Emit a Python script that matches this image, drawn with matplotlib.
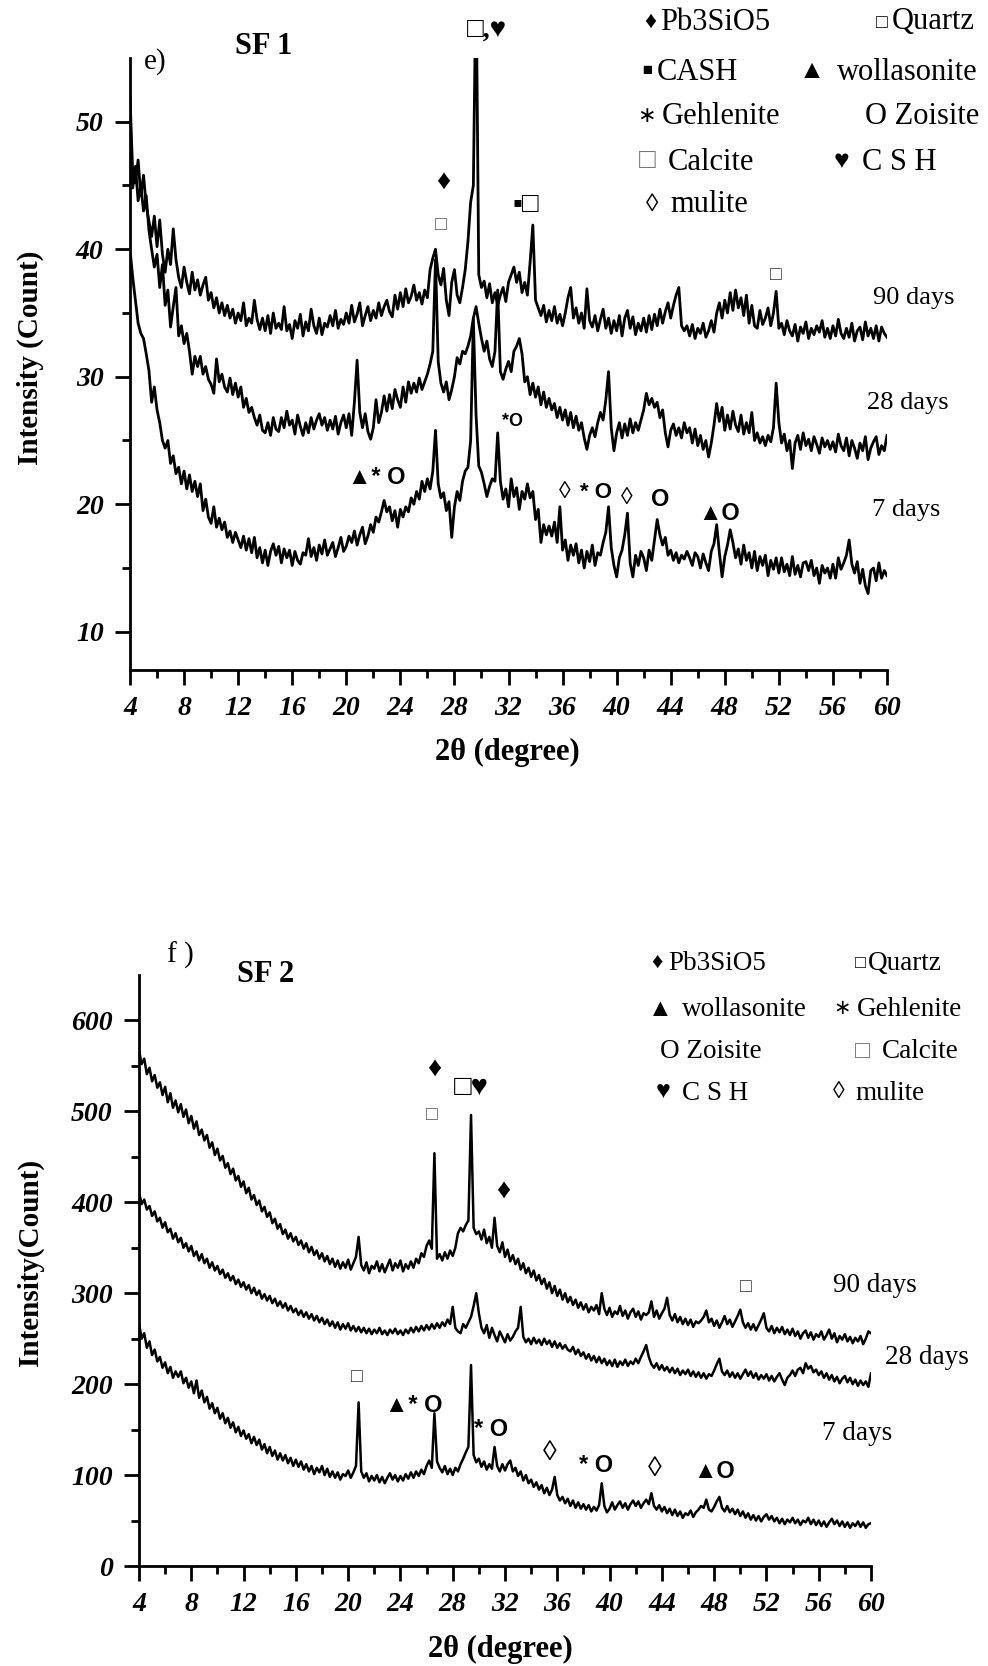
import numpy as np
import matplotlib
matplotlib.use("Agg")
import matplotlib.pyplot as plt

plt.rcParams['font.family'] = ['Liberation Serif', 'DejaVu Sans']

W, H = 988, 1666

# 2theta grid, 0.2 degree step
two_theta = np.round(np.arange(4, 60.0001, 0.2), 1)

# ---- SF 1 (panel e) ----
sf1_90 = [
    52.0, 46.0, 45.2, 47.0, 44.2,
    45.8, 43.4, 42.2, 41.0, 42.6,
    40.2, 42.3, 39.6, 38.2, 40.0,
    38.8, 41.6, 39.2, 37.8, 37.0,
    38.6, 37.4, 36.5, 38.2, 36.8,
    37.6, 36.4, 37.2, 37.8, 36.0,
    36.6, 35.4, 36.2, 35.0, 35.8,
    34.8, 35.6, 34.6, 35.3, 34.2,
    35.0, 34.4, 35.8, 34.0, 34.6,
    34.2, 36.0, 34.5, 33.7, 34.6,
    33.6, 34.8, 33.4, 35.0, 33.8,
    34.2, 33.7, 35.5, 33.6, 34.1,
    33.0, 34.4, 33.8, 34.9, 33.2,
    34.3, 33.6, 35.3, 34.0, 33.4,
    34.6, 33.3, 34.2, 33.9, 34.8,
    34.0, 35.2, 33.8, 34.5, 34.1,
    35.0, 34.2, 35.6, 34.3, 34.9,
    35.8, 34.0, 34.8, 35.5, 34.4,
    35.2, 34.6, 35.8, 34.8, 35.5,
    36.0, 35.1, 34.7, 36.4, 35.3,
    36.6, 35.5, 36.9, 35.8, 36.3,
    37.2, 36.0, 36.6, 35.7, 36.8,
    36.2, 38.4, 39.3, 40.0, 38.0,
    37.2, 38.5, 36.0, 34.8, 37.4,
    38.4, 36.4, 35.8, 37.0, 38.4,
    40.6, 43.7, 45.0, 62.0, 38.0,
    37.0, 37.5, 36.2, 37.3, 35.8,
    36.6, 35.6, 36.4, 37.0, 35.9,
    37.4, 38.0, 38.6, 37.4, 38.2,
    36.6, 37.4, 36.4, 39.0, 41.9,
    36.0, 35.4, 34.8, 35.6, 34.3,
    35.2, 34.4, 35.5, 34.2, 34.9,
    34.0, 35.0, 36.2, 37.0, 34.6,
    35.4, 34.2, 35.0, 33.8, 36.9,
    34.4, 33.9, 34.8, 33.6, 34.5,
    35.3, 33.8, 34.6, 33.4, 34.4,
    33.6, 34.8, 33.2, 34.6, 35.2,
    33.8, 34.7, 33.3, 34.2, 33.6,
    34.6, 33.5, 34.8, 33.7, 34.9,
    34.0, 35.3, 34.2, 35.1, 35.8,
    34.6, 35.6, 36.4, 37.0, 34.0,
    33.6, 34.0, 33.2, 34.1, 33.0,
    33.8, 33.4, 34.2, 33.1, 33.6,
    34.4, 33.5, 35.0, 35.8, 34.6,
    36.0, 35.0, 36.6, 35.2, 36.8,
    35.4, 36.2, 34.8, 36.4, 34.2,
    35.6, 34.0, 33.8, 35.2, 34.1,
    34.6, 35.4, 34.0, 35.0, 36.7,
    33.8, 34.2, 33.3, 34.4, 33.6,
    33.2, 34.1, 32.8, 33.9, 33.4,
    34.3, 33.0, 33.8, 33.3, 34.0,
    33.5, 34.4, 33.1, 33.8, 33.0,
    34.0, 33.2, 34.5, 33.4, 33.0,
    33.8, 33.1, 34.2, 32.8, 33.6,
    33.9, 32.9, 34.3, 33.2, 33.8,
    33.0, 34.0, 32.8, 33.9, 33.4,
    33.1,
]

sf1_28 = [
    48.0, 44.8, 46.5, 43.8, 45.0,
    43.0, 44.2, 41.5, 40.0, 38.6,
    39.6, 37.0, 38.8, 35.6, 36.8,
    33.9, 35.5, 37.0, 33.2, 34.0,
    32.6, 33.4, 32.0, 30.2, 31.6,
    30.8, 31.6, 30.2, 30.8, 29.8,
    29.4, 28.7, 31.4, 29.6, 30.2,
    29.2, 28.8, 29.9, 28.6, 29.5,
    28.4, 29.2, 27.6, 28.3, 27.2,
    27.6, 26.8, 26.2, 27.0, 25.8,
    25.6, 26.4, 25.4, 26.8, 25.9,
    25.7, 26.8, 26.0, 27.3, 26.2,
    26.6, 25.5, 27.0, 26.1, 25.4,
    26.4, 25.6, 26.8, 25.9, 26.6,
    27.1, 26.2, 26.8, 25.8, 26.6,
    25.9, 26.9, 25.5, 26.4, 27.0,
    26.0, 27.1, 25.4, 28.0, 31.3,
    27.2, 26.0, 27.1, 25.7, 25.1,
    26.0, 28.2, 26.4, 27.2, 28.5,
    27.3, 28.6, 27.5, 29.0, 28.2,
    27.6, 29.2, 28.0, 29.6, 28.7,
    29.5, 28.8, 29.9, 29.0, 29.6,
    30.2, 31.0, 32.0, 39.2, 31.2,
    29.5, 28.8, 29.6, 28.2, 29.0,
    30.0, 31.5, 31.0, 32.0, 31.8,
    32.4, 33.2, 34.6, 35.5, 34.2,
    33.0, 32.0, 32.8, 31.4, 30.8,
    32.0, 36.8, 30.4, 29.8, 30.6,
    31.2, 30.4, 32.0, 32.4, 33.0,
    31.8, 29.6, 30.0, 28.6, 29.5,
    28.4, 29.2, 27.8, 28.8, 27.6,
    28.3, 27.4, 27.9, 26.8, 27.6,
    26.6, 27.4, 26.2, 27.2, 26.0,
    26.9, 25.8, 26.4, 25.2, 24.3,
    25.4, 26.0, 25.3, 26.4, 27.2,
    26.6, 28.2, 30.4, 26.0, 24.2,
    25.6, 26.4, 25.2, 26.3, 25.4,
    26.7, 25.6, 26.4, 25.8, 26.6,
    27.4, 28.7, 27.8, 28.3, 27.6,
    28.0, 26.8, 27.4, 25.6, 24.5,
    25.8, 26.3, 25.4, 26.0, 25.2,
    26.4, 25.6, 26.0, 24.8, 25.9,
    24.6, 25.4, 24.3, 25.0, 23.7,
    24.8, 26.2, 27.9, 26.5, 27.6,
    25.8, 27.0, 25.9, 27.3, 26.2,
    25.7, 27.0, 25.5, 26.4, 25.6,
    27.2, 25.0, 25.6, 24.8, 25.3,
    24.6, 25.4, 24.9, 26.0, 29.5,
    26.4, 24.8, 25.5, 24.2, 25.0,
    22.8, 24.8, 25.4, 24.3, 25.6,
    24.6, 25.1, 24.2, 25.3, 24.7,
    24.0, 25.2, 24.5, 25.0, 24.3,
    24.9, 24.1, 25.5, 24.6, 24.2,
    25.2, 23.8, 25.0, 24.4, 23.6,
    24.8, 24.2, 25.3, 23.5, 24.4,
    24.9, 25.3, 23.9, 24.6, 24.2,
    25.4,
]

sf1_7 = [
    40.0, 37.8, 36.0, 34.2, 33.4,
    33.0, 31.8, 30.5, 28.0, 29.2,
    27.4, 26.4, 25.0, 24.4, 25.0,
    23.2, 23.8, 22.4, 22.9, 21.6,
    22.6, 21.2, 22.3, 21.0, 21.8,
    20.6, 21.6, 19.5, 20.4, 19.0,
    18.5, 19.8, 18.2, 18.9, 18.0,
    18.6, 17.4, 17.9, 17.0, 17.8,
    17.2, 16.6, 17.5, 16.4, 17.3,
    16.2, 17.4, 15.8, 16.6, 15.4,
    16.4, 15.2, 16.3, 16.9, 16.0,
    16.7, 15.4, 16.5, 15.8, 16.4,
    15.2, 16.3, 15.6, 15.3, 16.2,
    16.0, 17.3, 15.9, 16.6, 15.6,
    16.8, 16.1, 17.2, 16.0, 16.5,
    17.0, 15.9, 16.6, 17.4, 16.3,
    16.7, 17.5, 17.0, 17.9, 16.8,
    17.6, 18.2, 16.9, 17.5, 18.4,
    17.8, 19.0, 18.6, 19.4, 20.3,
    19.4, 19.8, 18.7, 19.5, 18.2,
    19.6, 19.0, 19.8, 19.4, 20.5,
    20.0, 21.0, 20.4, 21.8, 21.0,
    22.0, 21.2, 22.6, 25.8, 21.6,
    20.5, 20.9, 19.5, 20.2, 17.4,
    19.8, 21.0, 20.3, 21.8, 22.6,
    22.9, 25.0, 34.5, 27.0, 23.0,
    22.5, 21.6, 20.6, 21.4, 22.0,
    21.8, 25.6, 21.8, 20.4, 21.2,
    19.8, 22.0, 20.6, 21.3, 19.6,
    21.0, 20.4, 21.6, 20.5, 21.0,
    18.8, 19.6, 17.0, 18.4, 17.6,
    18.3, 17.5, 18.6, 17.0, 19.8,
    16.4, 17.2, 15.6, 16.8, 16.0,
    16.9, 15.4, 16.4, 15.0, 16.3,
    15.5, 16.8, 15.2, 16.2, 16.0,
    17.0, 17.8, 19.8, 16.6, 15.2,
    14.3, 15.8, 16.4, 17.6, 19.3,
    15.4, 14.3, 16.0, 15.2, 16.3,
    15.8, 14.8, 16.4, 15.6, 17.2,
    18.8, 17.6, 16.8, 17.4, 16.0,
    16.4, 15.6, 16.2, 15.4, 16.0,
    15.7, 16.3, 15.8, 15.2, 16.2,
    15.9, 15.0, 16.1, 15.4, 14.8,
    16.3, 16.9, 18.4, 16.2, 14.3,
    15.9, 16.8, 18.0, 17.0, 15.8,
    16.5, 15.3, 16.8, 15.6, 16.2,
    15.0, 16.3, 14.8, 15.9, 15.2,
    16.0, 14.4, 15.6, 14.9, 15.8,
    14.6, 15.8, 14.7, 15.3, 14.4,
    15.9, 14.5, 15.2, 14.3, 15.4,
    15.5, 14.8, 15.6, 14.4, 15.0,
    13.8, 15.2, 14.6, 15.0, 14.2,
    15.3, 14.2, 15.8, 14.9, 15.4,
    16.0, 17.2, 15.3, 14.6, 15.5,
    13.8, 14.9, 13.6, 13.0, 14.8,
    15.0, 14.0, 15.4, 14.2, 14.8,
    14.4,
]

# ---- SF 2 (panel f) ----
sf2_90 = [
    567, 552, 558, 541, 548,
    533, 540, 526, 532, 518,
    527, 510, 520, 504, 512,
    499, 508, 494, 502, 487,
    495, 481, 489, 474, 480,
    468, 474, 460, 466, 452,
    459, 446, 451, 438, 443,
    431, 437, 424, 429, 417,
    423, 410, 416, 403, 408,
    397, 402, 390, 395, 384,
    389, 377, 382, 371, 376,
    365, 370, 360, 366, 357,
    362, 353, 358, 349, 355,
    345, 351, 342, 347, 338,
    344, 335, 341, 332, 338,
    329, 336, 327, 334, 328,
    337, 326, 333, 340, 362,
    331, 325, 334, 322, 330,
    327, 335, 324, 332, 323,
    330, 337, 325, 333, 328,
    336, 324, 332, 327, 335,
    328, 338, 333, 344, 340,
    352, 358, 349, 454, 338,
    343, 336, 345, 338, 347,
    341, 350, 366, 372, 368,
    375, 380, 496, 372, 365,
    368, 359, 370, 355, 362,
    350, 383, 352, 345, 356,
    340, 348, 335, 342, 332,
    338, 326, 333, 322, 328,
    318, 325, 314, 320, 310,
    316, 305, 312, 300, 308,
    297, 304, 293, 300, 290,
    296, 287, 293, 284, 290,
    282, 288, 279, 285, 281,
    287, 277, 300, 283, 276,
    284, 274, 280, 277, 286,
    275, 281, 272, 279, 283,
    274, 280, 271, 278, 276,
    279, 291, 274, 281, 272,
    278, 283, 295, 276, 270,
    277, 268, 274, 266, 272,
    265, 271, 263, 269, 267,
    270, 274, 281, 268, 272,
    264, 270, 262, 268, 275,
    266, 271, 263, 269, 275,
    282, 268, 262, 267, 260,
    266, 259, 265, 271, 278,
    262, 258, 264, 256, 262,
    257, 263, 255, 260, 254,
    261, 253, 258, 250, 256,
    259, 251, 257, 249, 255,
    252, 258, 249, 254, 260,
    250, 256, 246, 253, 249,
    255, 247, 252, 245, 251,
    247, 253, 244, 250, 258,
    256,
]

sf2_28 = [
    411, 398, 403, 392, 396,
    385, 390, 379, 383, 372,
    378, 367, 371, 360, 366,
    356, 361, 350, 355, 346,
    352, 341, 346, 336, 343,
    333, 338, 328, 334, 325,
    330, 321, 326, 317, 322,
    314, 319, 310, 315, 307,
    312, 304, 309, 300, 306,
    298, 303, 294, 299, 292,
    297, 289, 294, 286, 291,
    284, 289, 281, 286, 279,
    283, 276, 281, 274, 279,
    272, 277, 270, 275, 268,
    273, 266, 271, 264, 269,
    262, 268, 260, 266, 261,
    267, 259, 264, 258, 263,
    257, 262, 256, 261, 255,
    260, 256, 262, 255, 259,
    254, 260, 256, 261, 255,
    259, 254, 260, 256, 262,
    257, 263, 258, 264, 259,
    265, 260, 266, 261, 267,
    262, 268, 264, 271, 266,
    285, 262, 258, 256, 266,
    262, 268, 274, 286, 300,
    278, 262, 256, 265, 251,
    262, 254, 247, 258, 252,
    246, 255, 248, 252, 258,
    262, 285, 252, 246, 250,
    244, 251, 245, 249, 243,
    250, 244, 248, 241, 247,
    240, 245, 239, 243, 238,
    236, 241, 233, 238, 231,
    235, 228, 233, 226, 231,
    224, 230, 223, 228, 221,
    226, 220, 227, 219, 225,
    221, 227, 220, 225, 222,
    228, 223, 230, 236, 243,
    230, 222, 218, 223, 216,
    221, 215, 219, 213, 218,
    212, 217, 210, 215, 211,
    216, 209, 214, 208, 213,
    207, 212, 206, 211, 209,
    215, 222, 228, 214, 210,
    215, 208, 213, 207, 212,
    206, 211, 216, 209, 214,
    207, 212, 205, 210, 206,
    211, 204, 209, 203, 208,
    212, 205, 199, 207, 210,
    215, 209, 216, 218, 212,
    223, 217, 220, 213, 216,
    210, 214, 207, 212, 205,
    210, 203, 208, 201, 206,
    209, 202, 207, 200, 205,
    198, 204, 199, 203, 197,
    212,
]

sf2_7 = [
    267, 250, 256, 240, 247,
    232, 238, 225, 230, 218,
    224, 212, 219, 207, 214,
    208, 214, 201, 207, 196,
    203, 190, 204, 185, 193,
    180, 186, 173, 179, 168,
    174, 162, 168, 157, 163,
    152, 158, 147, 153, 143,
    149, 140, 145, 135, 142,
    133, 139, 128, 134, 124,
    131, 121, 127, 117, 124,
    116, 122, 113, 119, 110,
    117, 109, 115, 106, 112,
    104, 110, 101, 108, 103,
    110, 100, 107, 98, 104,
    97, 103, 95, 101, 99,
    105, 97, 103, 110, 180,
    104, 97, 102, 93, 99,
    94, 100, 92, 98, 91,
    97, 102, 95, 100, 93,
    99, 94, 101, 96, 103,
    97, 104, 99, 106, 101,
    110, 116, 108, 168, 115,
    108, 103, 110, 101, 107,
    100, 108, 104, 112, 118,
    125, 131, 221, 122, 114,
    118, 109, 115, 106, 112,
    107, 131, 110, 104, 112,
    105, 112, 116, 104, 108,
    99, 104, 94, 100, 91,
    95, 87, 92, 84, 89,
    80, 86, 78, 84, 98,
    78, 72, 76, 69, 74,
    66, 72, 64, 70, 63,
    68, 62, 67, 60, 65,
    61, 67, 91, 66, 59,
    63, 70, 62, 67, 71,
    64, 69, 62, 68, 72,
    66, 71, 64, 69, 73,
    68, 80, 66, 62, 67,
    60, 65, 58, 63, 56,
    62, 55, 60, 53, 58,
    56, 61, 54, 59, 62,
    66, 64, 73, 62, 60,
    65, 71, 76, 64, 60,
    66, 59, 63, 57, 62,
    55, 60, 53, 58, 51,
    56, 50, 55, 49, 54,
    57, 51, 55, 49, 53,
    47, 52, 46, 51, 48,
    53, 47, 51, 45, 50,
    48, 53, 46, 51, 45,
    50, 44, 49, 43, 48,
    52, 46, 50, 44, 49,
    43, 48, 42, 47, 44,
    49, 43, 48, 42, 46,
    47,
]

x_major = [4, 8, 12, 16, 20, 24, 28, 32, 36, 40, 44, 48, 52, 56, 60]
x_minor = [6, 10, 14, 18, 22, 26, 30, 34, 38, 42, 46, 50, 54, 58]
y1_major = [10, 20, 30, 40, 50]
y1_minor = [15, 25, 35, 45]
y2_major = [0, 100, 200, 300, 400, 500, 600]
y2_minor = [50, 150, 250, 350, 450, 550]

sans = ['Liberation Sans', 'DejaVu Sans']
serif = ['Liberation Serif', 'DejaVu Sans']

fig = plt.figure(figsize=(W / 100, H / 100), dpi=100)


def ptext(x, y, s, **kw):
    # place text using pixel coordinates of the picture (origin top left)
    kw.setdefault('ha', 'center')
    kw.setdefault('va', 'center')
    fig.text(x / W, 1 - y / H, s, **kw)


def style_axes(ax, ylim, ymaj, ymin):
    ax.set_xlim(4, 60)
    ax.set_ylim(*ylim)
    ax.set_xticks(x_major)
    ax.set_xticks(x_minor, minor=True)
    ax.set_yticks(ymaj)
    ax.set_yticks(ymin, minor=True)
    ax.set_xticklabels([str(v) for v in x_major], fontsize=20,
                       fontweight='bold', fontstyle='italic')
    ax.set_yticklabels([str(v) for v in ymaj], fontsize=20,
                       fontweight='bold', fontstyle='italic')
    for s in ['top', 'right']:
        ax.spines[s].set_visible(False)
    for s in ['left', 'bottom']:
        ax.spines[s].set_linewidth(2)
    ax.tick_params(which='major', direction='out', length=11, width=2, pad=8)
    ax.tick_params(which='minor', direction='out', length=6, width=2)


# panel e
ax1 = fig.add_axes([130 / W, 1 - 670 / H, 757 / W, 612 / H])
for ser in [sf1_90, sf1_28, sf1_7]:
    ax1.plot(two_theta, ser, color='black', lw=2.0)
style_axes(ax1, (7, 55), y1_major, y1_minor)

# panel f
ax2 = fig.add_axes([139 / W, 1 - 1566 / H, 732 / W, 591 / H])
for ser in [sf2_90, sf2_28, sf2_7]:
    ax2.plot(two_theta, ser, color='black', lw=1.8)
style_axes(ax2, (0, 650), y2_major, y2_minor)

# axis titles
ptext(30, 358, 'Intensity (Count)', fontsize=21, fontweight='bold', rotation=90)
ptext(507, 752, '2θ (degree)', fontsize=22, fontweight='bold')
ptext(30, 1262, 'Intensity(Count)', fontsize=21, fontweight='bold', rotation=90)
ptext(500, 1649, '2θ (degree)', fontsize=22, fontweight='bold')

# panel e titles
ptext(264, 47, 'SF 1', fontsize=22, fontweight='bold')
ptext(155, 62, 'e)', fontsize=21)

# panel e legend
lg1 = 22
ptext(650, 22, '♦', fontsize=17)
ptext(660, 22, 'Pb3SiO5', fontsize=lg1, ha='left')
ptext(882, 23, '□', fontsize=14)
ptext(892, 22, 'Quartz', fontsize=lg1, ha='left')
ptext(647, 72, '▪', fontsize=24)
ptext(657, 72, 'CASH', fontsize=lg1, ha='left')
ptext(812, 72, '▲', fontsize=19)
ptext(837, 72, 'wollasonite', fontsize=lg1, ha='left')
ptext(646, 117, '∗', fontsize=16, family=serif)
ptext(662, 117, 'Gehlenite', fontsize=lg1, ha='left')
ptext(865, 117, 'O Zoisite', fontsize=lg1, ha='left')
ptext(647, 162, '□', fontsize=20, color='#777777')
ptext(668, 162, 'Calcite', fontsize=lg1, ha='left')
ptext(841, 162, '♥', fontsize=19)
ptext(862, 162, 'C S H', fontsize=lg1, ha='left')
ptext(652, 205, '◊', fontsize=18)
ptext(670, 205, 'mulite', fontsize=lg1, ha='left')

# panel e peak marks
ptext(487, 30, '□,♥', fontsize=20, fontweight='bold')
ptext(443, 183, '♦', fontsize=20)
ptext(441, 226, '□', fontsize=14, color='#555555')
ptext(526, 205, '▪□', fontsize=20)
ptext(776, 275, '□', fontsize=14, color='#333333')
ptext(377, 477, '▲* O', fontsize=17, fontweight='bold', family=sans)
ptext(512, 421, '*O', fontsize=13, fontweight='bold', family=sans)
ptext(565, 493, '◊', fontsize=17)
ptext(596, 492, '* O', fontsize=16, fontweight='bold', family=sans)
ptext(627, 498, '◊', fontsize=17)
ptext(660, 499, 'O', fontsize=17, fontweight='bold', family=sans)
ptext(719, 513, '▲O', fontsize=17, fontweight='bold', family=sans)

ptext(873, 298, '90 days', fontsize=19, ha='left')
ptext(867, 403, '28 days', fontsize=19, ha='left')
ptext(872, 510, '7 days', fontsize=19, ha='left')

# panel f titles
ptext(180, 955, 'f )', fontsize=21)
ptext(266, 975, 'SF 2', fontsize=22, fontweight='bold')

# panel f legend
lg2 = 19.5
ptext(657, 963, '♦', fontsize=16)
ptext(668, 963, 'Pb3SiO5', fontsize=lg2, ha='left')
ptext(860, 964, '□', fontsize=13)
ptext(868, 963, 'Quartz', fontsize=lg2, ha='left')
ptext(660, 1010, '▲', fontsize=18)
ptext(682, 1010, 'wollasonite', fontsize=lg2, ha='left')
ptext(842, 1010, '∗', fontsize=15, family=serif)
ptext(857, 1010, 'Gehlenite', fontsize=lg2, ha='left')
ptext(660, 1052, 'O Zoisite', fontsize=lg2, ha='left')
ptext(862, 1052, '□', fontsize=18, color='#777777')
ptext(882, 1052, 'Calcite', fontsize=lg2, ha='left')
ptext(663, 1093, '♥', fontsize=18)
ptext(682, 1093, 'C S H', fontsize=lg2, ha='left')
ptext(839, 1093, '◊', fontsize=17)
ptext(855, 1093, 'mulite', fontsize=lg2, ha='left')

# panel f peak marks
ptext(434, 1070, '♦', fontsize=20)
ptext(471, 1088, '□♥', fontsize=21)
ptext(432, 1116, '□', fontsize=14, color='#555555')
ptext(503, 1192, '♦', fontsize=20)
ptext(746, 1288, '□', fontsize=14, color='#333333')
ptext(357, 1377, '□', fontsize=14, color='#333333')
ptext(414, 1406, '▲* O', fontsize=17, fontweight='bold', family=sans)
ptext(491, 1430, '* O', fontsize=17, fontweight='bold', family=sans)
ptext(550, 1453, '◊', fontsize=20)
ptext(596, 1465, '* O', fontsize=17, fontweight='bold', family=sans)
ptext(655, 1470, '◊', fontsize=20)
ptext(714, 1472, '▲O', fontsize=17, fontweight='bold', family=sans)

ptext(833, 1285, '90 days', fontsize=19.5, ha='left')
ptext(885, 1358, '28 days', fontsize=19.5, ha='left')
ptext(822, 1433, '7 days', fontsize=19.5, ha='left')

fig.savefig('out.png', dpi=100)
